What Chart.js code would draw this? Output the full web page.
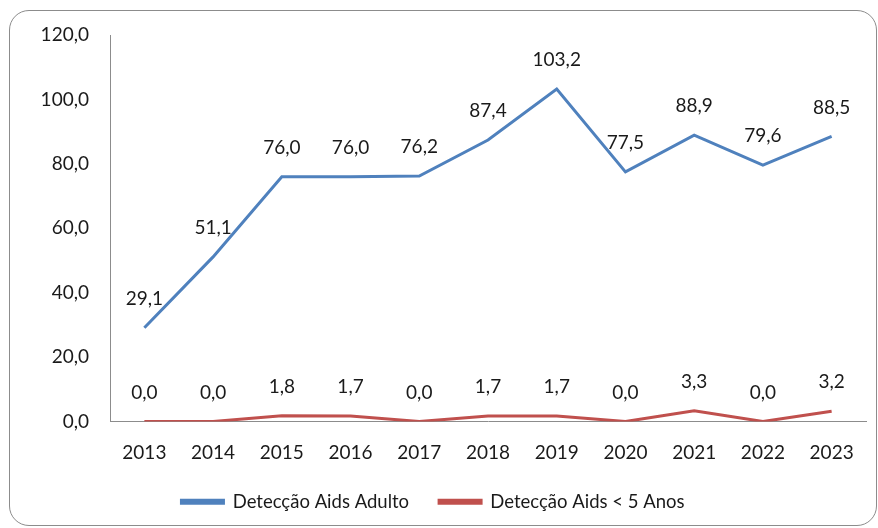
<!DOCTYPE html>
<html>
<head>
<meta charset="utf-8">
<script src="https://cdn.jsdelivr.net/npm/chart.js@4/dist/chart.umd.min.js"></script>
<style>
  html, body { margin: 0; padding: 0; background: #fff; }
  #wrap { position: relative; width: 878px; height: 528px; }
  #frame { position: absolute; left: 9px; top: 10px; width: 866px; height: 514px;
           border: 1px solid #8c8c8c; border-radius: 20px; background: #fff; }
  canvas { position: absolute; left: 0; top: 0; }
</style>
</head>
<body>
<div id="wrap">
  <div id="frame"></div>
  <canvas id="c" width="878" height="528"></canvas>
</div>
<script>
const categories = ['2013','2014','2015','2016','2017','2018','2019','2020','2021','2022','2023'];
const adultValues = [29.1, 51.1, 76.0, 76.0, 76.2, 87.4, 103.2, 77.5, 88.9, 79.6, 88.5];
const childValues = [0.0, 0.0, 1.8, 1.7, 0.0, 1.7, 1.7, 0.0, 3.3, 0.0, 3.2];
const seriesNames = ['Detecção Aids Adulto', 'Detecção Aids < 5 Anos'];
const yTicks = [0, 20, 40, 60, 80, 100, 120];

const FONT = 'Lato';
const FS = 19;
const fmt = v => v.toFixed(1).replace('.', ',');

const labelPlugin = {
  id: 'valueLabels',
  afterDatasetsDraw(chart) {
    const ctx = chart.ctx;
    ctx.save();
    ctx.font = FS + 'px ' + FONT;
    ctx.fillStyle = '#1a1a1a';
    ctx.textAlign = 'center';
    ctx.textBaseline = 'middle';
    chart.data.datasets.forEach((ds, i) => {
      const meta = chart.getDatasetMeta(i);
      meta.data.forEach((pt, j) => {
        ctx.fillText(fmt(ds.data[j]), pt.x, pt.y - 29);
      });
    });
    ctx.restore();
  }
};

new Chart(document.getElementById('c'), {
  type: 'line',
  data: {
    labels: categories,
    datasets: [
      { label: seriesNames[0], data: adultValues, borderColor: '#4F81BD', backgroundColor: '#4F81BD',
        borderWidth: 3, pointRadius: 0, tension: 0 },
      { label: seriesNames[1], data: childValues, borderColor: '#C0504D', backgroundColor: '#C0504D',
        borderWidth: 3, pointRadius: 0, tension: 0 }
    ]
  },
  options: {
    responsive: false,
    animation: false,
    layout: { padding: { top: 35, right: 12, left: 0, bottom: 7 } },
    plugins: {
      legend: {
        position: 'bottom',
        labels: { font: { family: FONT, size: 18.5 }, color: '#1a1a1a', boxWidth: 42, boxHeight: 3, padding: 30 }
      },
      tooltip: { enabled: false }
    },
    scales: {
      x: {
        offset: true,
        grid: { drawOnChartArea: false, drawTicks: false, offset: true },
        border: { display: true, color: '#8c8c8c', width: 1 },
        ticks: { font: { family: FONT, size: FS }, color: '#1a1a1a', padding: 20 },
        afterFit(s) { s.height = 41; }
      },
      y: {
        min: 0, max: 120,
        afterBuildTicks(s) { s.ticks = yTicks.map(v => ({ value: v })); },
        grid: { drawOnChartArea: false, drawTicks: false },
        border: { display: true, color: '#8c8c8c', width: 1 },
        ticks: { font: { family: FONT, size: FS }, color: '#1a1a1a', padding: 21, callback: v => fmt(v) },
        afterFit(s) { s.width = 110; }
      }
    }
  },
  plugins: [labelPlugin]
});
</script>
</body>
</html>
